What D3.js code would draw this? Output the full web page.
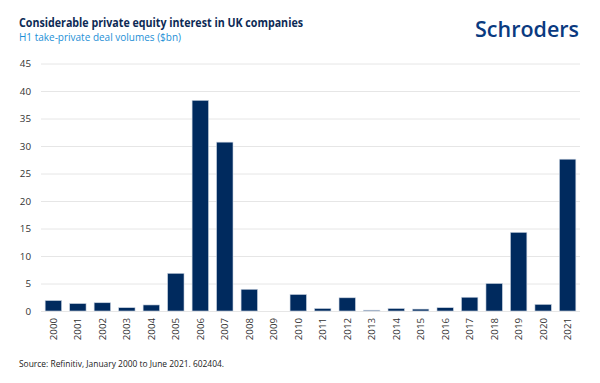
<!DOCTYPE html>
<html><head><meta charset="utf-8">
<script src="https://cdn.jsdelivr.net/npm/d3@7"></script>
<style>body{margin:0;background:#fff}svg{display:block}text{font-family:"Open Sans",sans-serif}</style>
</head><body><svg id="c" width="600" height="383"></svg>
<script>
const years = ["2000","2001","2002","2003","2004","2005","2006","2007","2008","2009","2010","2011","2012","2013","2014","2015","2016","2017","2018","2019","2020","2021"];
const volumes = [1.9,1.35,1.5,0.6,1.1,6.85,38.3,30.7,3.95,0,3.0,0.45,2.4,0.15,0.45,0.35,0.6,2.5,5.0,14.3,1.2,27.6];
const yTicks = [0,5,10,15,20,25,30,35,40,45];
const title = "Considerable private equity interest in UK companies";
const subtitle = "H1 take-private deal volumes ($bn)";
const source = "Source: Refinitiv, January 2000 to June 2021. 602404.";

const svg = d3.select("#c");
const x = d3.scaleBand().domain(years).range([41,580]).paddingInner(0.33).paddingOuter(0.17);
const y = d3.scaleLinear().domain([0,45]).range([311,63.5]);

svg.append("text").attr("x",19).attr("y",26.5).attr("font-size",12).attr("font-weight",700).attr("fill","#0d2a55")
  .attr("textLength",284).attr("lengthAdjust","spacingAndGlyphs").text(title);
svg.append("text").attr("x",19).attr("y",41).attr("font-size",10).attr("fill","#1d8fd6")
  .attr("textLength",162).attr("lengthAdjust","spacingAndGlyphs").text(subtitle);
svg.append("text").attr("x",475).attr("y",36.5).attr("font-size",22).attr("font-weight",600).attr("fill","#0a3a80")
  .attr("textLength",104).attr("lengthAdjust","spacingAndGlyphs").text("Schroders");

const ga = svg.append("g").attr("transform","translate(41,0)")
  .call(d3.axisLeft(y).tickValues(yTicks).tickSize(-539).tickPadding(10));
ga.select(".domain").remove();
ga.selectAll(".tick line").attr("stroke","#e6e6e6");
ga.selectAll(".tick text").attr("font-size",9.8).attr("fill","#333").attr("font-family","Open Sans");

svg.append("g").selectAll("rect").data(volumes).join("rect")
  .attr("x",(d,i)=>x(years[i])).attr("width",x.bandwidth())
  .attr("y",d=>y(d)).attr("height",d=>y(0)-y(d))
  .attr("fill","#002a5e").attr("stroke","#c8d2e0").attr("stroke-width",0.6);

const gx = svg.append("g").attr("transform","translate(0,311)")
  .call(d3.axisBottom(x).tickSize(0).tickPadding(6));
gx.select(".domain").remove();
gx.selectAll(".tick text").attr("font-size",9.7).attr("fill","#333").attr("font-family","Open Sans")
  .attr("transform","rotate(-90)").attr("text-anchor","end").attr("dx",0).attr("dy","0.35em").attr("y",0).attr("x",-7);

svg.append("text").attr("x",19).attr("y",367).attr("font-size",8.4).attr("fill","#222")
  .attr("textLength",205).attr("lengthAdjust","spacingAndGlyphs").text(source);
</script></body></html>
